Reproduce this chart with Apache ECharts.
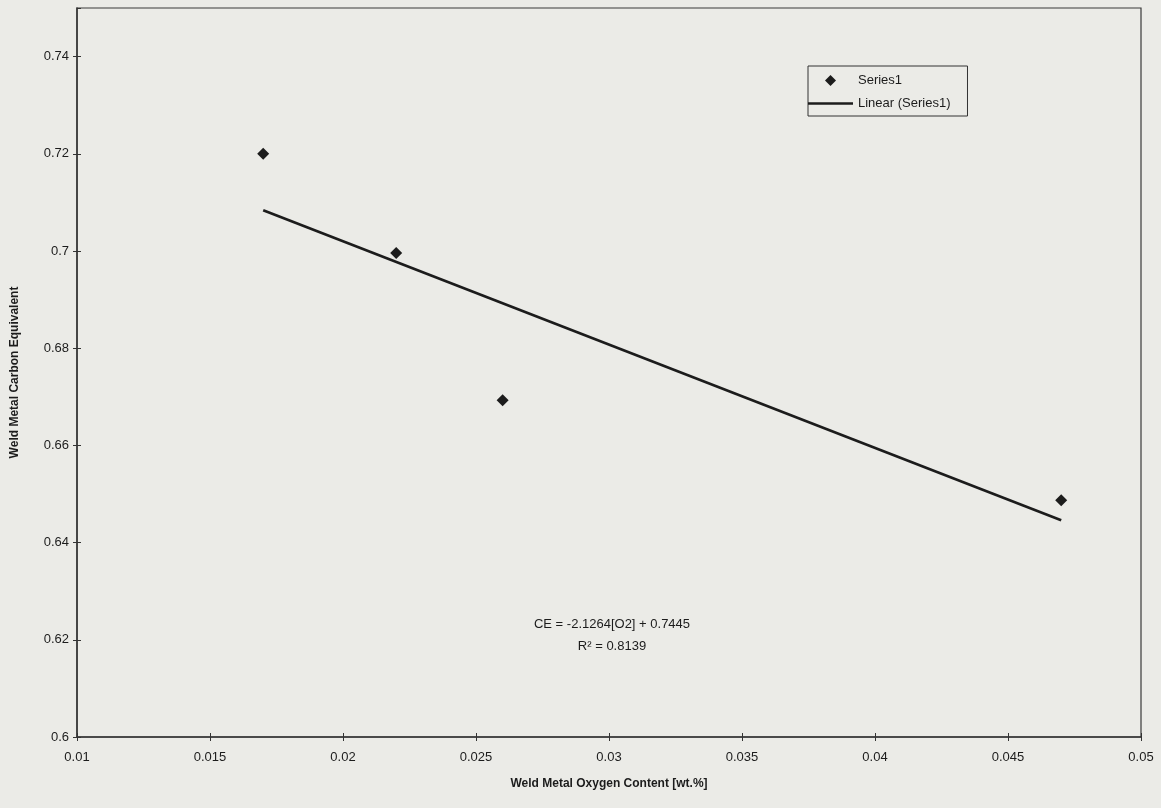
<!DOCTYPE html>
<html>
<head>
<meta charset="utf-8">
<script src="https://cdn.jsdelivr.net/npm/echarts@6/dist/echarts.min.js"></script>
<style>html,body{margin:0;padding:0;background:#ebebe7;}#c{width:1161px;height:808px;}</style>
</head>
<body>
<div id="c"></div>
<script>
// Data
var oxygen = [0.0170, 0.0220, 0.0260, 0.0470];
var carbonEq = [0.7200, 0.6996, 0.6693, 0.6487];
var trendX = [0.0170, 0.0470];
var trendY = [0.7084, 0.6446];
var xTicks = ['0.01','0.015','0.02','0.025','0.03','0.035','0.04','0.045','0.05'];
var yTicks = ['0.6','0.62','0.64','0.66','0.68','0.7','0.72','0.74'];
var equationText = 'CE = -2.1264[O2] + 0.7445';
var r2Text = 'R\u00B2 = 0.8139';

var FONT = '"Liberation Sans", Arial, sans-serif';
var INK = '#1c1c1c';

var chart = echarts.init(document.getElementById('c'));
var scatterData = oxygen.map(function (x, i) { return [x, carbonEq[i]]; });
var trendData = trendX.map(function (x, i) { return [x, trendY[i]]; });

function fmtX(v) { var s = (+v.toFixed(4)).toString(); return xTicks.indexOf(s) >= 0 ? s : ''; }
function fmtY(v) { var s = (+v.toFixed(4)).toString(); return yTicks.indexOf(s) >= 0 ? s : ''; }

chart.setOption({
  backgroundColor: '#ebebe7',
  animation: false,
  grid: { left: 77, right: 20, top: 8, bottom: 71, show: true, borderColor: '#3a3a3a', borderWidth: 1.2, containLabel: false },
  xAxis: [{
    type: 'value', min: 0.01, max: 0.05, interval: 0.005,
    name: 'Weld Metal Oxygen Content [wt.%]', nameLocation: 'middle', nameGap: 41,
    nameTextStyle: { fontFamily: FONT, fontSize: 12, fontWeight: 'bold', color: INK },
    axisLine: { show: true, lineStyle: { color: '#333', width: 1.5 } },
    axisTick: { show: true, length: 4, lineStyle: { color: '#333' } },
    axisLabel: { margin: 14, fontFamily: FONT, fontSize: 13, color: INK, formatter: fmtX },
    splitLine: { show: false }
  }, {
    type: 'value', min: 0.01, max: 0.05, interval: 0.005, position: 'bottom',
    axisLine: { show: false }, axisTick: { show: true, inside: true, length: 4, lineStyle: { color: '#333' } },
    axisLabel: { show: false }, splitLine: { show: false }
  }],
  yAxis: [{
    type: 'value', min: 0.6, max: 0.75, interval: 0.02,
    name: 'Weld Metal Carbon Equivalent', nameLocation: 'middle', nameGap: 56, nameRotate: 90,
    nameTextStyle: { fontFamily: FONT, fontSize: 12, fontWeight: 'bold', color: INK },
    axisLine: { show: true, lineStyle: { color: '#333', width: 1.5 } },
    axisTick: { show: true, length: 4, lineStyle: { color: '#333' } },
    axisLabel: { margin: 8, fontFamily: FONT, fontSize: 13, color: INK, formatter: fmtY, showMaxLabel: false },
    splitLine: { show: false }
  }, {
    type: 'value', min: 0.6, max: 0.75, interval: 0.02, position: 'left',
    axisLine: { show: false }, axisTick: { show: true, inside: true, length: 4, lineStyle: { color: '#333' } },
    axisLabel: { show: false }, splitLine: { show: false }
  }],
  legend: {
    orient: 'vertical', left: 808, top: 66,
    backgroundColor: '#ebebe7', borderColor: '#333', borderWidth: 1,
    padding: [8, 17, 6, 0], itemGap: 10, itemWidth: 45, itemHeight: 11,
    symbolKeepAspect: true,
    textStyle: { fontFamily: FONT, fontSize: 13, color: INK },
    data: [
      { name: 'Series1', icon: 'path://M0,5 L5,0 L10,5 L5,10 Z', itemStyle: { opacity: 1 } },
      { name: 'Linear (Series1)', icon: 'path://M0,0 L45,0 L45,2.5 L0,2.5 Z' }
    ]
  },
  series: [{
    name: 'Series1', type: 'scatter', data: scatterData,
    symbol: 'diamond', symbolSize: 12,
    itemStyle: { color: INK, opacity: 1 }
  }, {
    name: 'Linear (Series1)', type: 'line', data: trendData,
    symbol: 'none', lineStyle: { color: INK, width: 2.6 }, itemStyle: { color: INK }
  }],
  graphic: [{
    type: 'text', x: 612, y: 624,
    style: { text: equationText, fontFamily: FONT, fontSize: 13, fill: INK, align: 'center', verticalAlign: 'middle' }
  }, {
    type: 'text', x: 612, y: 646,
    style: { text: r2Text, fontFamily: FONT, fontSize: 13, fill: INK, align: 'center', verticalAlign: 'middle' }
  }]
});
</script>
</body>
</html>
